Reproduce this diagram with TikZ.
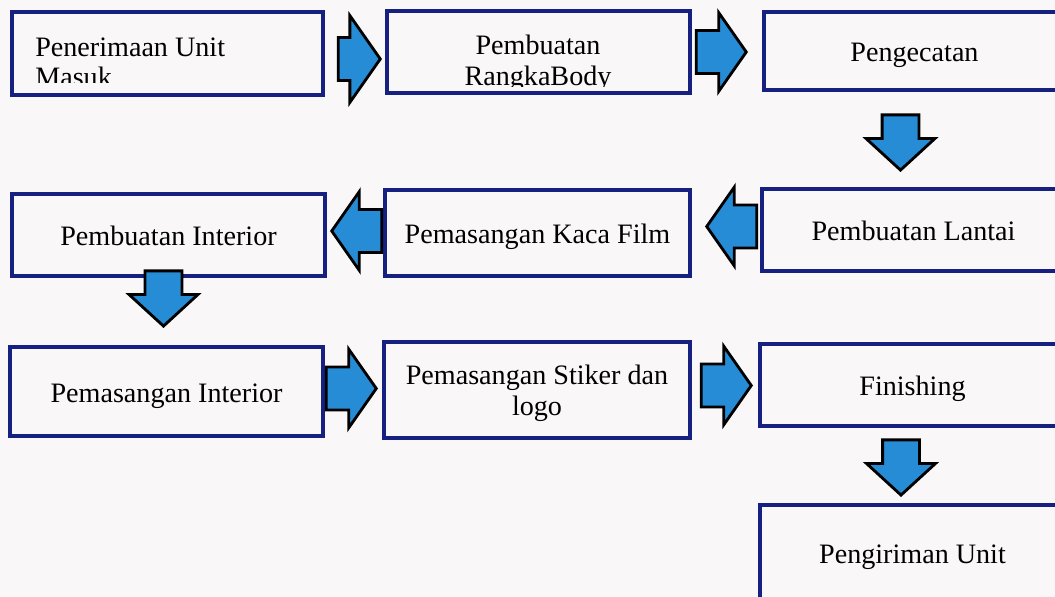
\documentclass[tikz,border=0pt]{standalone}
\usepackage{fontspec}
\setmainfont{Liberation Serif}
\usetikzlibrary{shapes.arrows,calc}
\definecolor{boxnavy}{RGB}{22,32,128}
\definecolor{arrblue}{RGB}{38,140,214}
\definecolor{paper}{RGB}{249,247,248}
\tikzset{
  stagebox/.style={draw=boxnavy, fill=paper, line width=2.8pt, inner sep=0pt,
                   align=center, font=\fontsize{20}{24}\selectfont},
  stage/.style={stagebox, text height=15pt, text depth=0pt},
  stagetxt/.style={inner sep=0pt, font=\fontsize{20}{21}\selectfont},
  % block arrows between the stages, placed by their tips
  blockarr/.style={single arrow, draw=black, fill=arrblue, line width=2pt,
                   inner sep=0pt, single arrow tip angle=110,
                   minimum height=1.25cm, minimum width=1.9cm,
                   single arrow head extend=0.45cm, shape border rotate=#1, anchor=tip},
  blockarr/.default=0,
  downarr/.style={single arrow, draw=black, fill=arrblue, line width=2pt,
                  inner sep=0pt, single arrow tip angle=95,
                  minimum height=1.38cm, minimum width=1.65cm,
                  single arrow head extend=0.4cm, shape border rotate=270, anchor=tip},
}
\newcommand{\hshaft}{\rule{0pt}{1cm}}
\newcommand{\vshaft}{\rule{0.85cm}{0pt}}
\begin{document}
\begin{tikzpicture}[x=0.025cm, y=-0.025cm]
  \useasboundingbox[fill=paper] (0,0) rectangle (1055,597);
  % row 1
  \node[stagebox, minimum width=7.78cm, minimum height=2.08cm] (pen) at (167.5,53.5) {};
  \node[stagebox, minimum width=7.58cm, minimum height=2.05cm] (rgk) at (538.5,52) {};
  \node[stage, minimum width=7.53cm, minimum height=1.95cm] (cat) at (914.5,51) {Pengecatan};
  \begin{scope}
    \clip (14,14) rectangle (321,83);
    \node[stagetxt, anchor=north west, align=left] (pentxt) at (35,38) {Penerimaan Unit\\Masuk};
  \end{scope}
  \begin{scope}
    \clip (389,13) rectangle (688,87);
    \node[stagetxt, anchor=north, align=center, font=\fontsize{20}{22}\selectfont] (rgktxt) at (538,35) {Pembuatan\\RangkaBody};
  \end{scope}
  % row 2
  \node[stage, minimum width=7.58cm, minimum height=2.05cm] (lnt) at (913.5,230) {Pembuatan Lantai};
  \node[stage, minimum width=7.63cm, minimum height=2.15cm] (kcf) at (537.5,233) {Pemasangan Kaca Film};
  \node[stage, minimum width=7.83cm, minimum height=2.05cm] (pbi) at (168.5,235) {Pembuatan Interior};
  % row 3
  \node[stage, minimum width=7.83cm, minimum height=2.23cm] (psi) at (166.5,391.5) {Pemasangan Interior};
  \node[stagebox, minimum width=7.65cm, minimum height=2.4cm, text depth=0pt,
        font=\fontsize{20}{22}\selectfont] (stk) at (537,390) {Pemasangan Stiker dan\\logo};
  \node[stage, minimum width=7.63cm, minimum height=2.05cm] (fin) at (912.5,385) {Finishing};
  \node[stage, minimum width=7.63cm, minimum height=2.38cm] (krm) at (912.5,552.5) {Pengiriman Unit};
  % arrows
  \node[blockarr, minimum height=1.05cm, minimum width=2.1cm, single arrow head extend=0.55cm] (a12) at (382,59) {\hshaft};
  \node[blockarr] (a23) at (748,52) {\hshaft};
  \node[downarr] (a34) at (900.5,172) {\vshaft};
  \node[blockarr=180] (a45) at (705,226.5) {\hshaft};
  \node[blockarr=180] (a56) at (330,231) {\hshaft};
  \node[downarr] (a67) at (163.5,328) {\vshaft};
  \node[blockarr] (a78) at (378,388.5) {\hshaft};
  \node[blockarr] (a89) at (753,385.5) {\hshaft};
  \node[downarr] (a910) at (901,497) {\vshaft};
\end{tikzpicture}
\end{document}
